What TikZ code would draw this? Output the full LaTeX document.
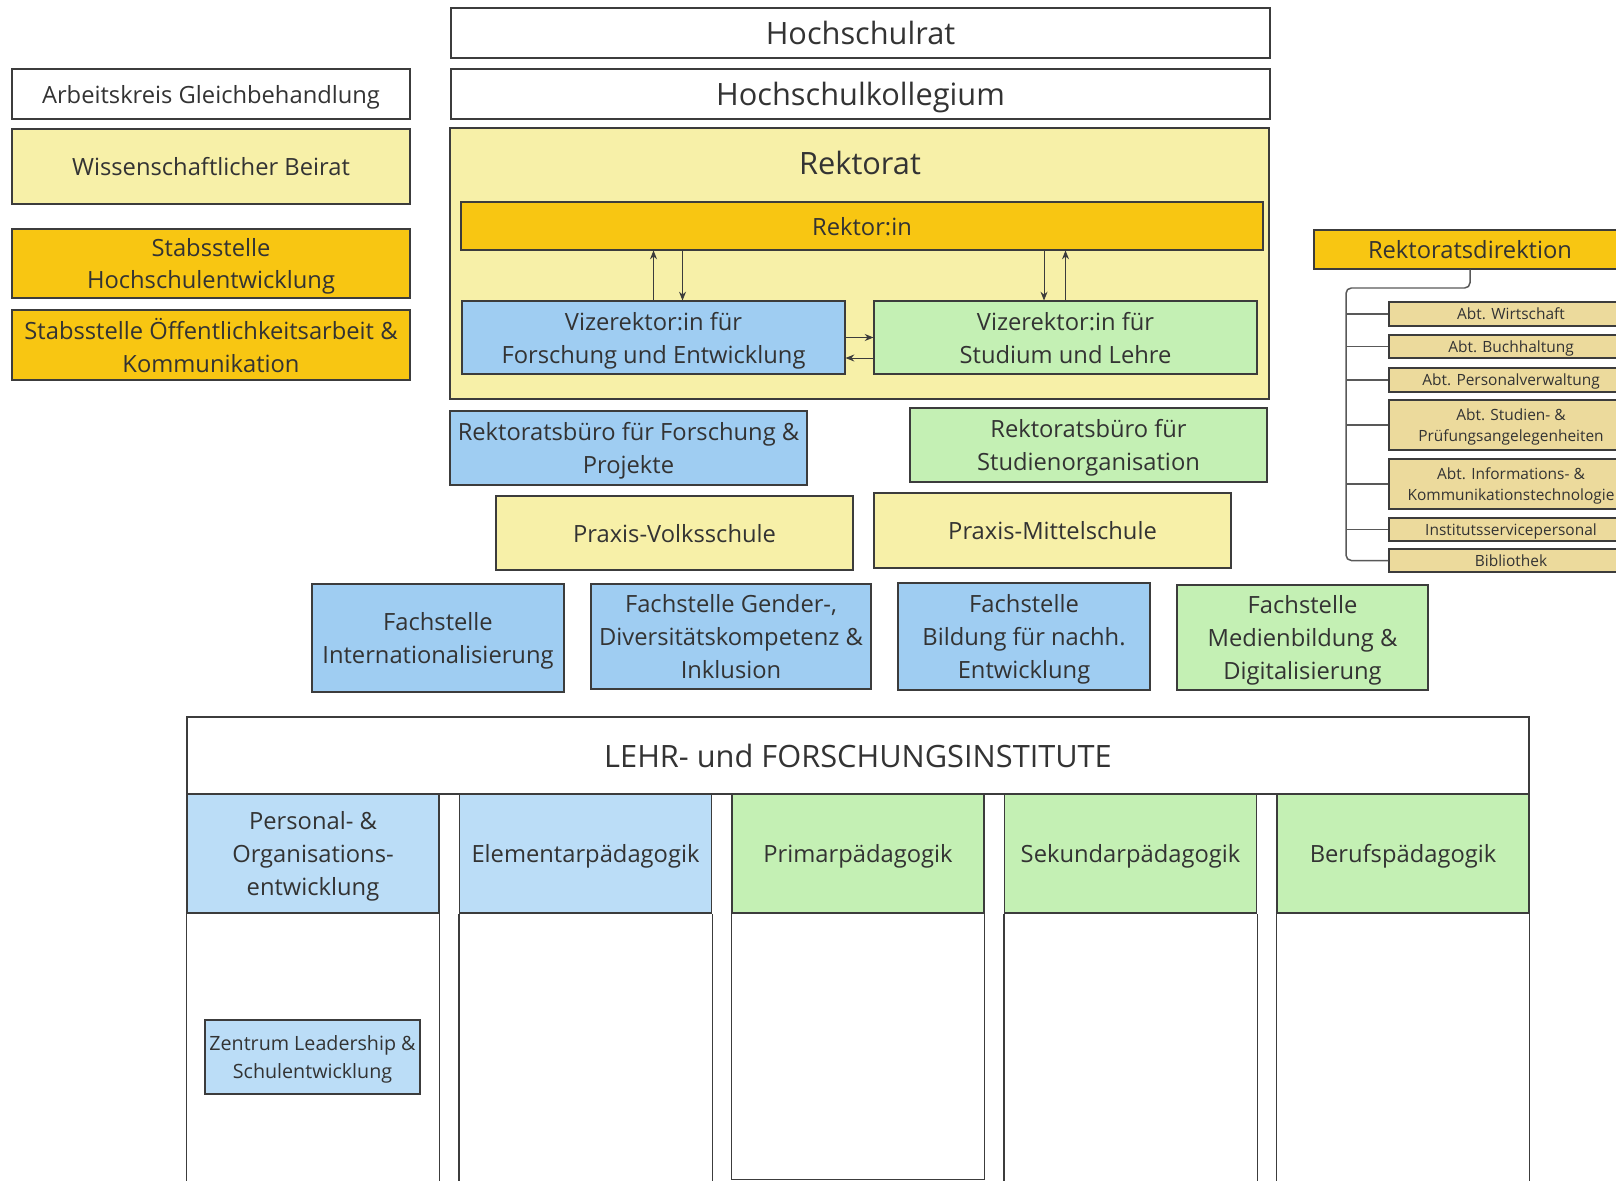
\documentclass[tikz,border=0pt]{standalone}
\usepackage{fontspec}
\setmainfont{Open Sans}
\usetikzlibrary{arrows.meta}
\definecolor{paleyellow}{HTML}{F7F0A8}
\definecolor{gold}{HTML}{F8C612}
\definecolor{skyblue}{HTML}{9FCDF2}
\definecolor{lightblue}{HTML}{BBDDF7}
\definecolor{palegreen}{HTML}{C4F0B4}
\definecolor{tan}{HTML}{ECDA9C}
\definecolor{ink}{HTML}{333333}
\definecolor{edge}{HTML}{3C3C3C}

\begin{document}
\begin{tikzpicture}[x=0.2mm, y=-0.2mm,
        box/.style 2 args={draw=edge, line width=0.6pt, text=ink, align=center, inner sep=0pt, text depth=0pt,
            minimum width=#1*0.2mm, minimum height=#2*0.2mm},
        big/.style={font=\fontsize{17.5}{22}\selectfont},
        mid/.style={font=\fontsize{13.5}{18.7}\selectfont},
        small/.style={font=\fontsize{8.8}{11.8}\selectfont},
        arr/.style={draw=edge, line width=0.5pt, -{Stealth[length=5pt, width=4pt]}},
        conn/.style={draw=edge!85, line width=0.85pt, rounded corners=3pt}]

        \useasboundingbox (0,0) rectangle (1616,1181);
        \clip (0,0) rectangle (1616,1181);

        \node[box={819}{50}, big] (rat) at (860.5,33) {Hochschulrat};
        \node[box={819}{50}, big] (kollegium) at (860.5,94) {Hochschulkollegium};

        \node[box={819}{271}, fill=paleyellow] (rektorat) at (859.5,263.5) {};
        \node[big, text=ink] (rektorattitel) at (860,163) {Rektorat};
        \node[box={802}{48}, fill=gold, mid] (rektorin) at (862,226) {Rektor:in};
        \node[box={383}{73}, fill=skyblue, mid] (vizeF) at (653.5,337.5) {Vizerektor:in für\\Forschung und Entwicklung};
        \node[box={383}{73}, fill=palegreen, mid] (vizeS) at (1065.5,337.5) {Vizerektor:in für\\Studium und Lehre};

        \draw[arr] (vizeF.north) -- (vizeF.north |- rektorin.south);
        \draw[arr] ([xshift=5.8mm]vizeF.north |- rektorin.south) -- ([xshift=5.8mm]vizeF.north);
        \draw[arr] (vizeS.north) -- (vizeS.north |- rektorin.south);
        \draw[arr] ([xshift=-4.3mm]vizeS.north |- rektorin.south) -- ([xshift=-4.3mm]vizeS.north);
        \draw[arr] (vizeF.east) -- (vizeS.west);
        \draw[arr] ([yshift=-4.1mm]vizeS.west) -- ([yshift=-4.1mm]vizeF.east);

        \node[box={398}{50}, mid] (arbeitskreis) at (211,94) {Arbeitskreis Gleichbehandlung};
        \node[box={398}{75}, fill=paleyellow, mid] (beirat) at (211,166.5) {Wissenschaftlicher Beirat};
        \node[box={398}{69}, fill=gold, mid] (stabHE) at (211,263.5) {Stabsstelle\\Hochschulentwicklung};
        \node[box={398}{70}, fill=gold, mid] (stabOe) at (211,345) {Stabsstelle Öffentlichkeitsarbeit \&\\Kommunikation};

        \node[box={312}{39}, fill=gold, mid] (direktion) at (1470,249.5) {Rektoratsdirektion};
        \foreach \n/\cy/\h/\t in {wirt/314/24/{Abt. Wirtschaft},
                buch/346.5/23/{Abt. Buchhaltung},
                pers/380/24/{Abt. Personalverwaltung},
                stud/425/50/{Abt. Studien- \&\\Prüfungsangelegenheiten},
                info/484/50/{Abt. Informations- \&\\Kommunikationstechnologie},
                inst/529.5/23/{Institutsservicepersonal},
                bib/560.5/23/{Bibliothek}}{
                \node[box={244}{\h}, fill=tan, small] (\n) at (1511,\cy) {\t};
            }
        \coordinate (bus) at (1346,288);
        \draw[conn] (direktion.south) |- (bus) |- (bib.west);
        \foreach \n in {wirt, buch, pers, stud, info, inst}{
                \draw[conn] (bus |- \n.west) -- (\n.west);
            }

        \node[box={357}{74}, fill=skyblue, mid] (bueroF) at (628.5,448) {Rektoratsbüro für Forschung \&\\Projekte};
        \node[box={357}{74}, fill=palegreen, mid] (bueroS) at (1088.5,445) {Rektoratsbüro für\\Studienorganisation};
        \node[box={357}{74}, fill=paleyellow, mid] (praxisV) at (674.5,533) {Praxis-Volksschule};
        \node[box={357}{75}, fill=paleyellow, mid] (praxisM) at (1052.5,530.5) {Praxis-Mittelschule};

        \node[box={252}{108}, fill=skyblue, mid] (fInt) at (438,638) {Fachstelle\\Internationalisierung};
        \node[box={280}{105}, fill=skyblue, mid] (fGender) at (731,636.5) {Fachstelle Gender-,\\Diversitätskompetenz \&\\Inklusion};
        \node[box={252}{107}, fill=skyblue, mid] (fBne) at (1024,636.5) {Fachstelle\\Bildung für nachh.\\Entwicklung};
        \node[box={251}{105}, fill=palegreen, mid] (fMedien) at (1302.5,637.5) {Fachstelle\\Medienbildung \&\\Digitalisierung};

        \node[box={1342}{77}, big] (institute) at (858,755.5) {LEHR- und FORSCHUNGSINSTITUTE};
        \foreach \i/\t/\c/\b in {0/{Personal- \&\\Organisations-\\entwicklung}/lightblue/300,
                1/{Elementarpädagogik}/lightblue/300,
                2/{Primarpädagogik}/palegreen/266,
                3/{Sekundarpädagogik}/palegreen/300,
                4/{Berufspädagogik}/palegreen/300}{
                \node[box={252}{119}, fill=\c, mid] (kopf\i) at (313+272.5*\i,853.5) {\t};
                \draw[edge, line width=0.6pt] (kopf\i.south west) -- ++(0,\b) -| (kopf\i.south east);
            }
        \draw[edge, line width=1pt] (institute.south west) -- (institute.south east);

        \node[box={215}{74}, fill=lightblue, font=\fontsize{11.2}{15.8}\selectfont] (zentrum) at (312.5,1057) {Zentrum Leadership \&\\Schulentwicklung};

    \end{tikzpicture}
\end{document}
